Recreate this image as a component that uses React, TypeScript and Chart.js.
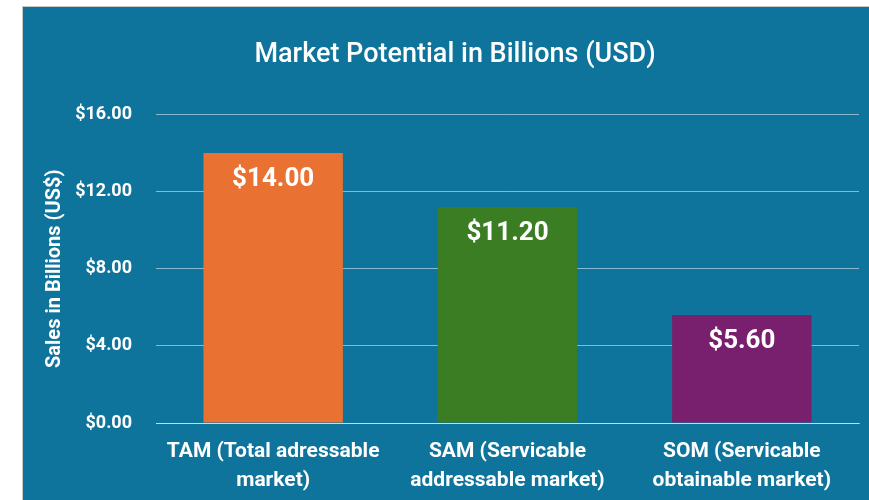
import React, { useEffect, useRef } from "react";
import { Chart, registerables } from "chart.js";

Chart.register(...registerables);

const categories: string[][] = [
  ["TAM (Total adressable", "market)"],
  ["SAM (Servicable", "addressable market)"],
  ["SOM (Servicable", "obtainable market)"],
];
const values: number[] = [14.0, 11.2, 5.6];
const barColors: string[] = ["#e97132", "#3b7d23", "#78206e"];
const chartTitle = "Market Potential in Billions (USD)";
const yTitle = "Sales in Billions (US$)";

const FONT = "Roboto, 'Noto Sans', sans-serif";

const dataLabelPlugin = {
  id: "dataLabels",
  afterDatasetsDraw(chart: any) {
    const ctx = chart.ctx;
    const meta = chart.getDatasetMeta(0);
    ctx.save();
    ctx.fillStyle = "#ffffff";
    ctx.font = `bold 26px ${FONT}`;
    ctx.textAlign = "center";
    ctx.textBaseline = "middle";
    meta.data.forEach((bar: any, i: number) => {
      const v = values[i];
      ctx.fillText("$" + v.toFixed(2), bar.x, bar.y + 27);
    });
    ctx.restore();
  },
};

export default function App() {
  const ref = useRef<HTMLCanvasElement>(null);
  useEffect(() => {
    if (!ref.current) return;
    const chart = new Chart(ref.current, {
      type: "bar",
      data: {
        labels: categories,
        datasets: [
          {
            data: values,
            backgroundColor: barColors,
            borderWidth: 0,
            barPercentage: 0.595,
            categoryPercentage: 1,
          },
        ],
      },
      options: {
        responsive: false,
        animation: false,
        devicePixelRatio: 1,
        layout: { padding: { left: 28, right: 30, top: 0, bottom: 0 } },
        plugins: {
          legend: { display: false },
          tooltip: { enabled: false },
          title: {
            display: true,
            text: chartTitle,
            color: "#ffffff",
            font: { family: FONT, size: 27, weight: "500" as any, lineHeight: 1.2 },
            padding: { top: 32, bottom: 43 },
          },
        },
        scales: {
          y: {
            min: 0,
            max: 16,
            afterFit(scale: any) {
              scale.width = 105;
            },
            ticks: {
              stepSize: 4,
              color: "#ffffff",
              padding: 24,
              font: { family: FONT, size: 18, weight: "bold" as any },
              callback: (v: any) => "$" + Number(v).toFixed(2),
            },
            grid: {
              color: "rgba(255,255,255,0.5)",
              lineWidth: 1,
              drawTicks: false,
            },
            border: { display: false },
            title: {
              display: true,
              text: yTitle,
              color: "#ffffff",
              font: { family: FONT, size: 20, weight: "bold" as any, lineHeight: 1.2 },
              padding: { top: -8, bottom: 0 },
            },
          },
          x: {
            afterFit(scale: any) {
              scale.height = 78;
            },
            ticks: {
              color: "#ffffff",
              maxRotation: 0,
              autoSkip: false,
              padding: 14,
              font: { family: FONT, size: 21, weight: "bold" as any, lineHeight: 1.38 },
            },
            grid: { display: false, drawTicks: false },
            border: { display: true, color: "rgba(255,255,255,0.5)" },
          },
        },
      },
      plugins: [dataLabelPlugin],
    });
    return () => chart.destroy();
  }, []);

  return (
    <div
      style={{
        position: "fixed",
        left: 22,
        top: 6,
        width: 866,
        height: 494,
        background: "#0e749c",
        borderTop: "1px solid #c8c8c8",
        borderLeft: "1px solid #c8c8c8",
      }}
    >
      <canvas ref={ref} width={866} height={494} style={{ display: "block" }} />
    </div>
  );
}
